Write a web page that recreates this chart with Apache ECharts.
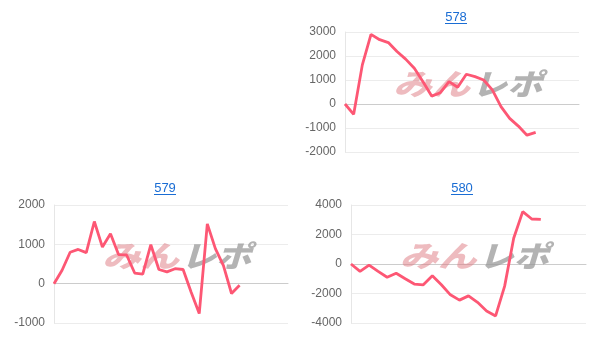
<!DOCTYPE html>
<html>
<head>
<meta charset="utf-8">
<script src="https://cdn.jsdelivr.net/npm/echarts@6/dist/echarts.min.js"></script>
<style>
html,body{margin:0;padding:0;background:#fff;}
#chart{width:607px;height:355px;}
</style>
</head>
<body>
<div id="chart"></div>
<script>
// ---- data ----
const titles = ['578', '579', '580'];
const catCount578 = 28;
const catCount579 = 30;
const catCount580 = 27;
const values578 = [0, -430, 1630, 2900, 2680, 2560, 2190, 1870, 1490, 930, 330, 470, 930, 700, 1240, 1140, 1000, 590, -110, -600, -920, -1300, -1180];
const values579 = [0, 340, 800, 870, 790, 1580, 930, 1270, 740, 730, 270, 240, 990, 360, 300, 380, 360, -220, -760, 1520, 890, 460, -250, -40];
const values580 = [0, -500, -70, -500, -900, -630, -1000, -1360, -1410, -800, -1410, -2090, -2450, -2160, -2600, -3180, -3520, -1500, 1750, 3550, 3050, 3020];
const yRange578 = {min: -2000, max: 3000, interval: 1000};
const yRange579 = {min: -1000, max: 2000, interval: 1000};
const yRange580 = {min: -4000, max: 4000, interval: 2000};

function cats(n) { const a = []; for (let i = 1; i <= n; i++) a.push(String(i)); return a; }

const chart = echarts.init(document.getElementById('chart'));

const grids = [
  {left: 345, top: 32, width: 234, height: 120},
  {left: 54, top: 205, width: 234, height: 118},
  {left: 351, top: 205, width: 235, height: 118}
];
const titlePos = [[456, 17], [165, 188], [462, 188]];
const catCounts = [catCount578, catCount579, catCount580];
const seriesVals = [values578, values579, values580];
const yRanges = [yRange578, yRange579, yRange580];

const lineColor = '#fd5774';
const graphic = [];
grids.forEach((g, i) => {
  const cx = g.left + g.width / 2 + 9;
  const cy = g.top + g.height / 2 - 8.5;
  graphic.push({
    type: 'text', z: 1,
    x: cx - 1, y: cy, scaleX: 1.2, scaleY: 0.92,
    style: {text: 'みん', fill: 'rgba(222,120,128,0.5)', textAlign: 'right', textVerticalAlign: 'middle',
      font: 'italic 900 32px "Noto Sans CJK JP"'}
  });
  graphic.push({
    type: 'text', z: 1,
    x: cx + 1, y: cy, scaleX: 1.1, scaleY: 0.92,
    style: {text: 'レポ', fill: 'rgba(150,150,150,0.72)', textAlign: 'left', textVerticalAlign: 'middle',
      font: 'italic 900 32px "Noto Sans CJK JP"'}
  });
  const [tx, ty] = titlePos[i];
  graphic.push({
    type: 'text', z: 5, x: tx, y: ty,
    style: {text: titles[i], fill: '#1a6dd4', textAlign: 'center', textVerticalAlign: 'middle',
      font: '13px "Liberation Sans", Arial, sans-serif'}
  });
  graphic.push({
    type: 'line', z: 5,
    shape: {x1: tx - 11, y1: ty + 6.5, x2: tx + 11, y2: ty + 6.5},
    style: {stroke: '#1a6dd4', lineWidth: 1}
  });
});

const option = {
  animation: false,
  backgroundColor: '#fff',
  grid: grids,
  xAxis: grids.map((g, i) => ({
    type: 'category', gridIndex: i, data: cats(catCounts[i]), boundaryGap: false,
    axisLine: {show: true, onZero: true, lineStyle: {color: '#cccccc', width: 1}},
    axisTick: {show: false}, axisLabel: {show: false}, splitLine: {show: false}
  })),
  yAxis: grids.map((g, i) => ({
    type: 'value', gridIndex: i, min: yRanges[i].min, max: yRanges[i].max, interval: yRanges[i].interval,
    axisLine: {show: true, lineStyle: {color: '#e6e6e6'}},
    axisTick: {show: false},
    axisLabel: {color: '#666', fontSize: 12, margin: 9, fontFamily: '"Liberation Sans", Arial, sans-serif',
      formatter: v => String(v)},
    splitLine: {show: true, lineStyle: {color: '#ececec', width: 1}}
  })),
  series: seriesVals.map((v, i) => ({
    type: 'line', xAxisIndex: i, yAxisIndex: i, data: v, z: 3,
    symbol: 'none', smooth: false,
    lineStyle: {color: lineColor, width: 2.8}
  })),
  graphic: graphic
};
chart.setOption(option);
</script>
</body>
</html>
